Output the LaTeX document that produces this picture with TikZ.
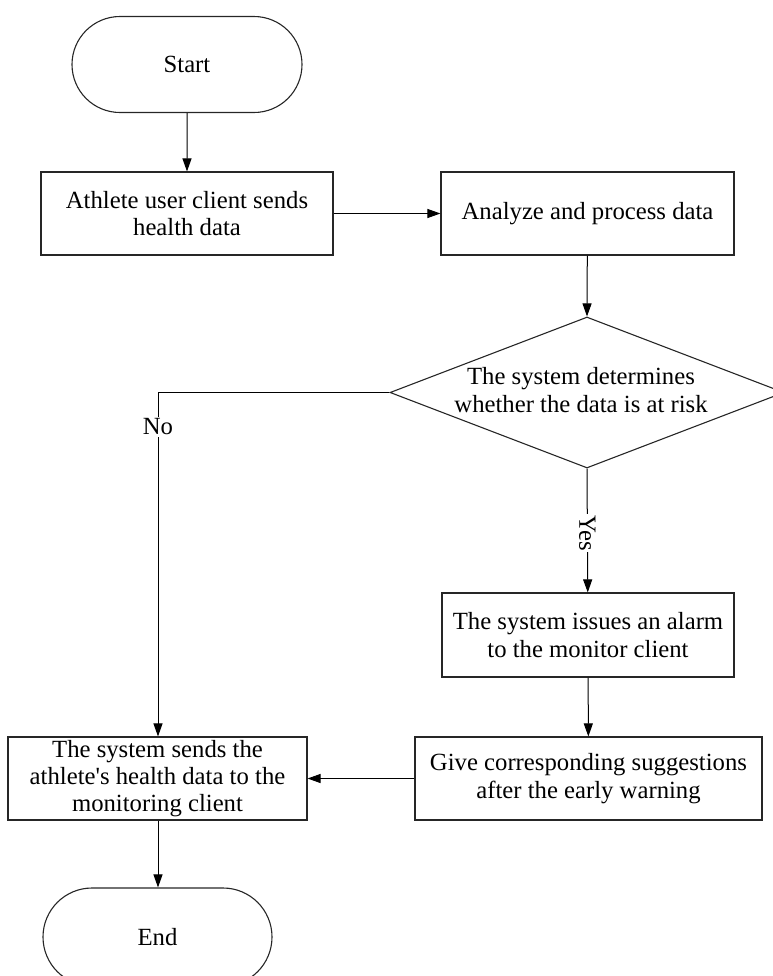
\documentclass[tikz,border=0pt]{standalone}
\usepackage{fontspec}
\setmainfont{Liberation Serif}[Ligatures=TeXOff]
\usetikzlibrary{shapes.geometric,shapes.misc,arrows.meta}

\begin{document}
\begin{tikzpicture}[x=1bp,y=-1bp,
  every node/.style={font=\fontsize{24.8}{27.5}\selectfont, align=center},
  procbox/.style={draw=black!85, line width=1.1bp, rectangle, inner sep=0pt},
  termbox/.style={draw=black!85, line width=1.1bp, rounded rectangle, inner sep=0pt,
    minimum width=230bp, minimum height=96bp},
  decbox/.style={draw=black!85, line width=1.1bp, diamond, inner sep=0pt,
    minimum width=394bp, minimum height=151bp},
  flow/.style={draw=black, line width=1bp, -{Triangle[length=13bp,width=9bp]}},
  lbl/.style={fill=white, inner sep=1.5bp}]

\useasboundingbox (0,0) rectangle (773,976);

% terminals
\node[termbox] (start) at (187,64.5) {Start};
\node[termbox, minimum width=229bp, minimum height=98bp] (end) at (157.5,937) {End};

% process steps
\node[procbox, minimum width=292bp, minimum height=83bp] (send) at (187,213.5)
  {Athlete user client sends\\health data};
\node[procbox, minimum width=293bp, minimum height=83bp] (analyze) at (587.5,213.5)
  {Analyze and process data};
\node[decbox] (risk) at (587,392.5) {};
\node (risktext) at (581,390) {The system determines\\whether the data is at risk};
\node[procbox, minimum width=292bp, minimum height=84bp] (alarm) at (588,635)
  {The system issues an alarm\\to the monitor client};
\node[procbox, minimum width=347bp, minimum height=83bp] (suggest) at (588.5,778.5)
  {Give corresponding suggestions\\after the early warning};
\node[procbox, minimum width=299bp, minimum height=83bp] (forward) at (157.5,778.5)
  {The system sends the\\athlete's health data to the\\monitoring client};

\coordinate (nocorner) at (158,392.5);

% connectors
\draw[flow] (start) -- (send);
\draw[flow] (send) -- (analyze);
\draw[flow] (analyze) -- (risk.north);
\draw[flow] (risk.south) -- node[lbl, rotate=-90, pos=0.52] {Yes} (alarm);
\draw[flow] (alarm) -- (suggest);
\draw[flow] (suggest) -- (forward);
\draw[flow] (risk.west) -- (nocorner) -- node[lbl, pos=0.1] {No} (forward.north -| nocorner);
\draw[flow] (forward.south -| nocorner) -- (end.north -| nocorner);

\end{tikzpicture}
\end{document}
